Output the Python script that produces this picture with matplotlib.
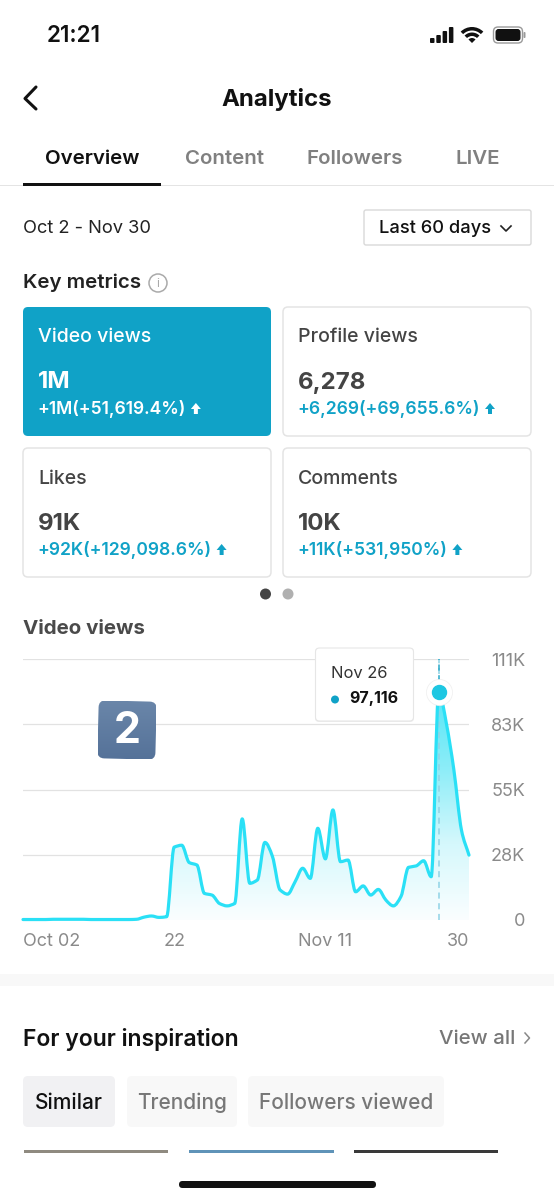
import numpy as np
import matplotlib
matplotlib.use("Agg")
import matplotlib.pyplot as plt
from matplotlib.patches import FancyBboxPatch, Rectangle, Circle, Polygon, PathPatch, Wedge
from matplotlib.path import Path
from matplotlib.colors import LinearSegmentedColormap
from matplotlib.transforms import Affine2D

plt.rcParams['font.family'] = ['Inter', 'DejaVu Sans']

# ---- data ----
days = list(range(60))
views_k = [0.2, 0.2, 0.2, 0.2, 0.3, 0.3, 0.3, 0.3, 0.3, 0.2, 0.2, 0.2, 0.2, 0.2, 0.2, 0.3,
           1.2, 1.7, 1.1, 1.4, 31.0, 31.8, 24.4, 23.4, 11.3, 10.6, 7.0, 6.0, 7.0, 43.0,
           15.6, 17.0, 33.0, 27.0, 12.8, 11.0, 16.3, 22.0, 17.7, 39.0, 26.0, 46.8, 24.8,
           25.5, 12.0, 14.5, 10.6, 13.0, 8.5, 6.0, 10.0, 22.4, 23.0, 25.2, 18.4, 97.116,
           83.7, 63.8, 38.3, 27.6]
x_ticks = [0, 20, 40, 59]
x_tick_labels = ['Oct 02', '22', 'Nov 11', '30']
y_ticks = [0, 27.75, 55.5, 83.25, 111]
y_tick_labels = ['0', '28K', '55K', '83K', '111K']
peak_day = 55
peak_label = 'Nov 26'
peak_text = '97,116'
tabs = ['Overview', 'Content', 'Followers', 'LIVE']
cards = [('Video views', '1M', '+1M(+51,619.4%)'),
         ('Profile views', '6,278', '+6,269(+69,655.6%)'),
         ('Likes', '91K', '+92K(+129,098.6%)'),
         ('Comments', '10K', '+11K(+531,950%)')]
chips = ['Similar', 'Trending', 'Followers viewed']

W, H = 554, 1200
fig = plt.figure(figsize=(W/100, H/100), dpi=100, facecolor='white')
PX = 0.72

def curve_path(x, y):
    x = np.asarray(x, float); y = np.asarray(y, float)
    s = np.diff(y) / np.diff(x)
    m = np.zeros_like(y)
    for i in range(1, len(y)-1):
        if s[i-1]*s[i] > 0:
            m[i] = np.sign(s[i]) * min(1.5*min(abs(s[i-1]), abs(s[i])), 0.5*abs(s[i-1]+s[i]))
    m[0] = s[0]; m[-1] = s[-1]
    verts = [(x[0], y[0])]; codes = [Path.MOVETO]
    for i in range(len(x)-1):
        h = x[i+1]-x[i]
        verts += [(x[i]+h/3, y[i]+m[i]*h/3), (x[i+1]-h/3, y[i+1]-m[i+1]*h/3), (x[i+1], y[i+1])]
        codes += [Path.CURVE4]*3
    return verts, codes

# ---- chart axes ----
ax = fig.add_axes([23/W, 1-920/H, (469-23)/W, (920-659)/H], facecolor='none', zorder=2)
verts, codes = curve_path(days, views_k)
fill_path = Path(verts + [(days[-1], 0), (days[0], 0), (days[0], 0)],
                 codes + [Path.LINETO, Path.LINETO, Path.CLOSEPOLY])
cmap = LinearSegmentedColormap.from_list('f', ['#fbfeff', '#d5f8fc', '#8cedf8', '#55e6f6'])
grad = np.linspace(1, 0, 256).reshape(-1, 1)
im = ax.imshow(grad, extent=[0, 59, 0, max(views_k)], aspect='auto', cmap=cmap, zorder=2)
clip = PathPatch(fill_path, transform=ax.transData, facecolor='none', edgecolor='none')
ax.add_patch(clip)
im.set_clip_path(clip)
ax.add_patch(PathPatch(Path(verts, codes), facecolor='none', edgecolor='#2ae0f6', lw=2.3,
                       zorder=3, clip_on=False, capstyle='round', joinstyle='round'))
ax.set_xlim(0, 59); ax.set_ylim(0, 111)
ax.grid(axis='y', color='#e2e2e2', lw=0.9, zorder=1)
ax.set_axisbelow(True)
for s in ax.spines.values():
    s.set_visible(False)
ax.set_xticks(x_ticks); ax.set_xticklabels(x_tick_labels, fontsize=18*PX, color='#8a8a8a')
ax.xaxis.get_ticklabels()[0].set_ha('left')
ax.xaxis.get_ticklabels()[3].set_ha('right')
ax.yaxis.tick_right()
ax.set_yticks(y_ticks); ax.set_yticklabels(y_tick_labels, fontsize=18*PX, color='#8a8a8a', ha='right')
ax.tick_params(axis='both', length=0)
ax.tick_params(axis='x', pad=9.5)
ax.tick_params(axis='y', pad=(525-469)*PX)
ax.plot([peak_day, peak_day], [0, 111], color='#8fd3e6', lw=1.1, dashes=(4, 3), zorder=2.5)
ax.plot([peak_day, peak_day], [views_k[peak_day], 111], color='#2aa9c9', lw=1.1, dashes=(4, 3), zorder=2.5)
ax.scatter([peak_day], [views_k[peak_day]], s=(26*PX)**2, c='white', edgecolors='#eeeeee', linewidths=0.5, zorder=4, clip_on=False)
ax.scatter([peak_day], [views_k[peak_day]], s=(14*PX)**2, c='#1ec7e2', zorder=5, clip_on=False)

# ---- UI layer in pixel coordinates ----
ui = fig.add_axes([0, 0, 1, 1], facecolor='none', zorder=3)
ui.set_xlim(0, W); ui.set_ylim(H, 0); ui.axis('off')

def rrect(x0, y0, x1, y1, r, fc, ec='none', lw=0, z=1):
    p = FancyBboxPatch((x0, y0), x1-x0, y1-y0, boxstyle=f'round,pad=0,rounding_size={r}',
                       fc=fc, ec=ec, lw=lw, zorder=z)
    ui.add_patch(p); return p

def txt(x, y, s, px, color='#111111', weight='normal', ha='left', z=6):
    return ui.text(x, y+2.5, s, fontsize=px*PX, color=color, fontweight=weight, ha=ha, va='center', zorder=z)

# status bar
txt(47, 34, '21:21', 22.5, '#111111', 'semibold')
for i, hh in enumerate([5, 8, 12, 16]):
    rrect(430+i*6.3, 43-hh, 434.5+i*6.3, 43, 1, '#111111')
ui.add_patch(Wedge((472, 43), 16, 225, 315, width=3.5, fc='#111111', ec='none'))
ui.add_patch(Wedge((472, 43), 10.5, 225, 315, width=3.5, fc='#111111', ec='none'))
ui.add_patch(Wedge((472, 43), 5, 225, 315, fc='#111111', ec='none'))
rrect(493.5, 27, 522.5, 43, 4.5, 'white', '#9a9a9a', 1)
rrect(495.5, 29, 520.5, 41, 3, '#111111')
rrect(523.5, 32, 525.5, 38, 1, '#9a9a9a')

# header
ui.plot([36, 25, 36], [87, 98.5, 109], color='#111111', lw=2.2, solid_capstyle='round', solid_joinstyle='round')
txt(277, 97, 'Analytics', 24, '#111111', 'bold', 'center')

# tabs
tab_x = [92, 224, 355, 478]
for i, (t, x) in enumerate(zip(tabs, tab_x)):
    txt(x, 156.5, t, 20.5, '#111111' if i == 0 else '#808080', 'semibold', 'center')
ui.add_patch(Rectangle((0, 185), W, 1, fc='#e4e4e4', ec='none'))
ui.add_patch(Rectangle((23, 183), 138, 3, fc='#111111', ec='none', zorder=2))

# date row
txt(23, 226, 'Oct 2 - Nov 30', 18.3, '#222222')
rrect(364, 210, 531, 245, 2, 'white', '#d9d9d9', 1)
txt(379, 226, 'Last 60 days', 18.3, '#111111', 'medium')
ui.plot([501, 506, 511], [226, 231, 226], color='#222222', lw=1.2)

# key metrics
txt(23, 280, 'Key metrics', 20.5, '#222222', 'semibold')
ui.add_patch(Circle((158, 283), 9, fc='white', ec='#aaaaaa', lw=1.1))
txt(158, 281.5, 'i', 12, '#aaaaaa', ha='center')

# cards
boxes = [(23, 307, 271, 436), (283, 307, 531, 436), (23, 448, 271, 577), (283, 448, 531, 577)]
for i, (box, c) in enumerate(zip(boxes, cards)):
    x0, y0, x1, y1 = box
    active = i == 0
    rrect(x0, y0, x1, y1, 5, '#10a2c7' if active else 'white', 'none' if active else '#e4e4e4', 0 if active else 1.1)
    col1 = 'white' if active else '#444444'
    col3 = 'white' if active else '#10a2c7'
    txt(x0+15, y0+28, c[0], 19.5, col1, 'medium')
    txt(x0+15, y0+73, c[1], 24, col1, 'bold')
    t = txt(x0+14.5, y0+99.5, c[2], 17.5, col3, 'semibold')
    fig.canvas.draw()
    bb = t.get_window_extent()
    ax_ = bb.x1 + 10
    ay = y0 + 102
    ui.add_patch(Polygon([(ax_, ay-6), (ax_+5, ay), (ax_+2, ay), (ax_+2, ay+5), (ax_-2, ay+5), (ax_-2, ay), (ax_-5, ay)],
                         closed=True, fc=col3, ec='none', zorder=6))
ui.add_patch(Circle((265.5, 594), 5.5, fc='#444444', ec='none'))
ui.add_patch(Circle((288, 594), 5.5, fc='#b0b0b0', ec='none'))

# chart title
txt(23, 627, 'Video views', 20.5, '#4a4a4a', 'bold')

# emoji-like badge
badge_cmap = LinearSegmentedColormap.from_list('b', ['#557299', '#6a86a9'])
bim = ui.imshow(np.linspace(1, 0, 64).reshape(-1, 1), extent=[98, 156, 759, 701], cmap=badge_cmap, aspect='auto', zorder=3)
bp = FancyBboxPatch((98, 701), 58, 58, boxstyle='round,pad=0,rounding_size=7', fc='none', ec='none',
                    transform=Affine2D().rotate_deg_around(127, 730, 1.5) + ui.transData)
ui.add_patch(bp)
bim.set_clip_path(bp)
txt(127, 729, '2', 43, 'white', 'bold', 'center')
ui.set_xlim(0, W); ui.set_ylim(H, 0)

# tooltip
rrect(315, 648, 414, 722, 4, '#eeeeee', 'none', 0, z=4)
rrect(315.5, 648, 413.5, 721, 4, 'white', '#e6e6e6', 0.8, z=5)
txt(331, 671, peak_label, 16.5, '#333333')
ui.add_patch(Circle((335, 699.5), 4, fc='#10a2c7', ec='none', zorder=6))
txt(349, 696, peak_text, 16, '#111111', 'bold')

# lower section
ui.add_patch(Rectangle((0, 974), W, 12, fc='#f8f8f8', ec='none'))
txt(23, 1037, 'For your inspiration', 23, '#111111', 'semibold')
txt(439, 1036, 'View all', 20.5, '#777777', 'medium')
ui.plot([525, 529.5, 525], [1033, 1038, 1043], color='#888888', lw=1.1)
chip_boxes = [(23, 1076, 115, 1127), (127, 1076, 237, 1127), (248, 1076, 444, 1127)]
for i, (b, c) in enumerate(zip(chip_boxes, chips)):
    rrect(b[0], b[1], b[2], b[3], 5, '#f1f1f3' if i == 0 else '#f8f8f8')
    txt((b[0]+b[2])/2, 1100.5, c, 20.8, '#111111' if i == 0 else '#777777', 'medium', 'center')

# thumbnail edges and home bar
ui.add_patch(Rectangle((24, 1150), 144, 2.5, fc='#8f8a80', ec='none'))
ui.add_patch(Rectangle((189, 1150), 145, 2.5, fc='#5f93b8', ec='none'))
ui.add_patch(Rectangle((354, 1150), 144, 2.5, fc='#3a3a3a', ec='none'))
rrect(179, 1181, 376, 1188, 3.5, '#111111')

fig.savefig('out.png', dpi=100)
